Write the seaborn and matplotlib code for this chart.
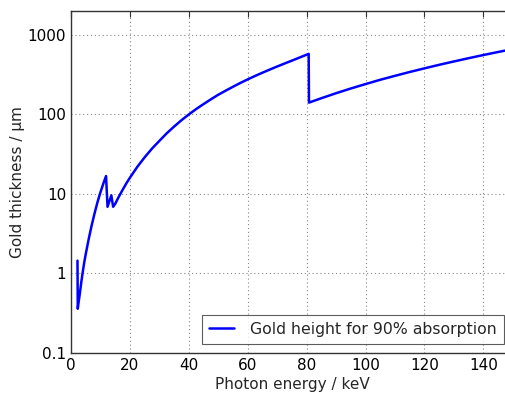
import numpy as np
import pandas as pd
import matplotlib
matplotlib.use("Agg")
import matplotlib.pyplot as plt
import seaborn as sns
from matplotlib.ticker import FixedLocator, FixedFormatter, LogLocator, NullFormatter

# Data
energy_kev = [2.2, 2.3, 2.6, 3, 3.5, 4, 4.5, 5, 6, 7, 8, 9, 10, 11, 11.9, 12.4, 13.7, 14.3,
              15, 16, 17, 18, 19, 20, 22.5, 25, 27.5, 30, 32.5, 35, 37.5, 40, 42.5, 45,
              47.5, 50, 52.5, 55, 57.5, 60, 62.5, 65, 67.5, 70, 72.5, 75, 77.5, 80.7,
              80.8, 85, 90, 95, 100, 105, 110, 115, 120, 125, 130, 135, 140, 145, 150]
thickness_um = [1.45, 0.36, 0.44, 0.56, 0.78, 1.05, 1.38, 1.75, 2.7, 4.0, 5.7, 7.9, 10.5,
                13.6, 16.8, 6.9, 9.6, 6.9, 7.5, 8.9, 10.4, 12.1, 14.0, 16.0, 21.9, 28.9,
                37.2, 46.5, 57.9, 70.4, 84.6, 100, 117, 135, 155, 177, 199, 223, 249, 276,
                305, 335, 367, 401, 437, 475, 518, 578, 141, 160, 185, 212, 241, 273, 306,
                342, 380, 421, 464, 510, 559, 610, 664]
series_label = "Gold height for 90% absorption"
y_ticks = [0.1, 1, 10, 100, 1000]
y_tick_labels = ["0.1", "1", "10", "100", "1000"]
x_ticks = [0, 20, 40, 60, 80, 100, 120, 140]

df = pd.DataFrame({"E": energy_kev, "t": thickness_um, "s": series_label})

sns.set_style("white")
plt.rcParams["font.family"] = ["DejaVu Sans"]

W, H = 506, 394
fig = plt.figure(figsize=(W / 100, H / 100), dpi=100)
ax = fig.add_axes([71 / W, (H - 353) / H, 441.8 / W, 342 / H])

sns.lineplot(data=df, x="E", y="t", hue="s", palette=["#0000ff"], linewidth=1.8,
             sort=False, estimator=None, ax=ax)

ax.set_yscale("log")
ax.set_xlim(0, 150)
ax.set_ylim(0.1, 2000)
ax.yaxis.set_major_locator(FixedLocator(y_ticks))
ax.yaxis.set_major_formatter(FixedFormatter(y_tick_labels))
ax.yaxis.set_minor_locator(LogLocator(base=10, subs=np.arange(2, 10)))
ax.yaxis.set_minor_formatter(NullFormatter())
ax.set_xticks(x_ticks)

ax.grid(True, which="major", color="#888888", linestyle=(0, (1, 2.5)), linewidth=0.8)
for sp in ax.spines.values():
    sp.set_color("#333333")
    sp.set_linewidth(1.0)
ax.tick_params(which="both", direction="in", top=True, right=True, colors="#333333",
               labelcolor="black", labelsize=11)
ax.tick_params(which="major", length=4, width=0.8)
ax.tick_params(which="minor", length=2, width=0.6)

ax.set_xlabel("Photon energy / keV", fontsize=11, labelpad=3)
ax.set_ylabel("Gold thickness / \u00b5m", fontsize=11, labelpad=2)

leg = ax.legend(loc="lower right", fontsize=11.3, frameon=True, fancybox=False,
                bbox_to_anchor=(504 / W, (H - 344) / H), bbox_transform=fig.transFigure,
                borderaxespad=0, handlelength=1.6, handletextpad=1.0,
                borderpad=0.45)
leg.get_frame().set_edgecolor("#333333")
leg.get_frame().set_linewidth(0.8)

fig.savefig("out.png", dpi=100)
